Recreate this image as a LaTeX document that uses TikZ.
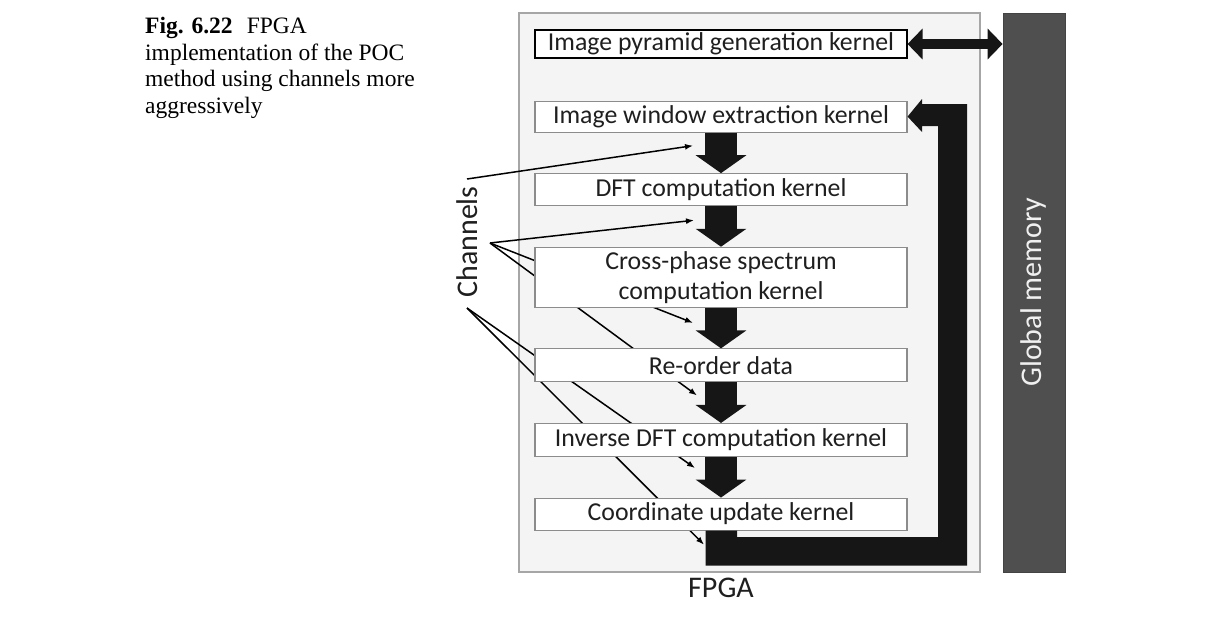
\documentclass[tikz,border=0pt]{standalone}
\usepackage{fontspec}
\setmainfont{Liberation Serif}
\newfontfamily\kfont{Carlito}
\usetikzlibrary{positioning,calc,arrows.meta}
\pgfdeclarelayer{bg}
\pgfdeclarelayer{wires}
\pgfsetlayers{bg,wires,main}
\definecolor{fpgafill}{HTML}{F4F4F4}
\definecolor{fpgaline}{HTML}{A6A6A6}
\definecolor{memfill}{HTML}{4F4F4F}
\definecolor{blockblack}{HTML}{161616}

\begin{document}
\begin{tikzpicture}[x=1pt,y=-1pt,node distance=40.5pt]
	\tikzstyle{kernel}=[rectangle, draw=black!45, line width=1.1pt, fill=white, minimum width=372pt,
	inner sep=0pt, align=center, text=black!88, font=\kfont\fontsize{25.8}{30}\selectfont]
	\tikzstyle{flow}=[draw=blockblack, line width=32pt, -{Triangle[width=50pt,length=18pt]}]
	\tikzstyle{chan}=[line width=1.5pt, -{Latex[length=8pt,width=6pt]}]
	\tikzstyle{big}=[inner sep=0pt, font=\kfont\fontsize{30}{36}\selectfont]
	\useasboundingbox (0,0) rectangle (1209,616);

	% caption
	\node (cap) [anchor=north west, inner sep=0pt, align=left, font=\fontsize{23.5}{26.5}\selectfont] at (145,17)
	{\textbf{Fig. 6.22}\hspace{0.6em}FPGA\\implementation of the POC\\method using channels more\\aggressively};

	% kernels
	\node (pyr) [kernel, draw=black, minimum height=28pt] at (721,44) {Image pyramid generation kernel};
	\node (win) [kernel, minimum height=31pt, below=42pt of pyr] {Image window extraction kernel};
	\node (dft) [kernel, minimum height=32pt, below=of win] {DFT computation kernel};
	\node (cps) [kernel, minimum height=60pt, below=of dft] {Cross-phase spectrum\\computation kernel};
	\node (ro) [kernel, minimum height=33pt, below=of cps] {Re-order data};
	\node (idft) [kernel, minimum height=33pt, below=of ro] {Inverse DFT computation kernel};
	\node (upd) [kernel, minimum height=32pt, below=of idft] {Coordinate update kernel};

	\begin{pgfonlayer}{bg}
		\node (fpga) [draw=fpgaline, fill=fpgafill, line width=1.2pt, minimum width=461pt,
		minimum height=559pt, inner sep=0pt] at (749.5,292.5) {};
	\end{pgfonlayer}
	\node (fpgalbl) [big, anchor=north, text=black!88] at ($(upd |- fpga.south)+(0,5)$) {FPGA};

	\node (mem) [fill=memfill, draw=memfill!85!black, minimum width=62pt, minimum height=559pt,
	inner sep=0pt, right=22pt of fpga] {};
	\node (memlbl) [big, rotate=90, text=white!94!black] at (mem) {Global memory};

	\node (chlbl) [big, rotate=90, text=black!88] at (467,242) {Channels};

	% data flow
	\draw[flow] (win) -- (dft);
	\draw[flow] (dft) -- (cps);
	\draw[flow] (cps) -- (ro);
	\draw[flow] (ro) -- (idft);
	\draw[flow] (idft) -- (upd);
	\draw[draw=blockblack, line width=10pt, {Triangle[width=30pt,length=15pt]}-{Triangle[width=30pt,length=15pt]}]
	(pyr.east) -- (pyr.east -| mem.west);
	\fill[blockblack] ([xshift=-15.5pt]upd.south) -- ++(0,35) -| (967,104) -- (922,104) -- (922,99)
	-- (win.east) -- (922,132) -- (922,126) -- (938,126) -- (938,537) -- (737,537)
	-- ([xshift=16pt]upd.south) -- cycle;

	% channels
	\coordinate (s1) at ($(chlbl)+(0,-63)$);
	\coordinate (s2) at ($(chlbl)+(23,1)$);
	\coordinate (s3) at ($(chlbl)+(0,66)$);
	\coordinate (t1) at ($(win.south)+(-28,13)$);
	\coordinate (t2) at ($(dft.south)+(-27,14)$);
	\coordinate (t3) at ($(cps.south)+(-28,15)$);
	\coordinate (t4) at ($(ro.south)+(-24,13)$);
	\coordinate (t5) at ($(idft.south)+(-26,11)$);
	\coordinate (t6) at ($(upd.south)+(-17,14)$);
	\begin{pgfonlayer}{wires}
		\draw[chan] (s1) -- (t1);
		\draw[chan] (s2) -- (t2);
		\draw[chan] (s2) -- (t3);
		\draw[chan] (s2) -- (t4);
		\draw[chan] (s3) -- (t5);
		\draw[chan] (s3) -- (t6);
	\end{pgfonlayer}
\end{tikzpicture}
\end{document}
